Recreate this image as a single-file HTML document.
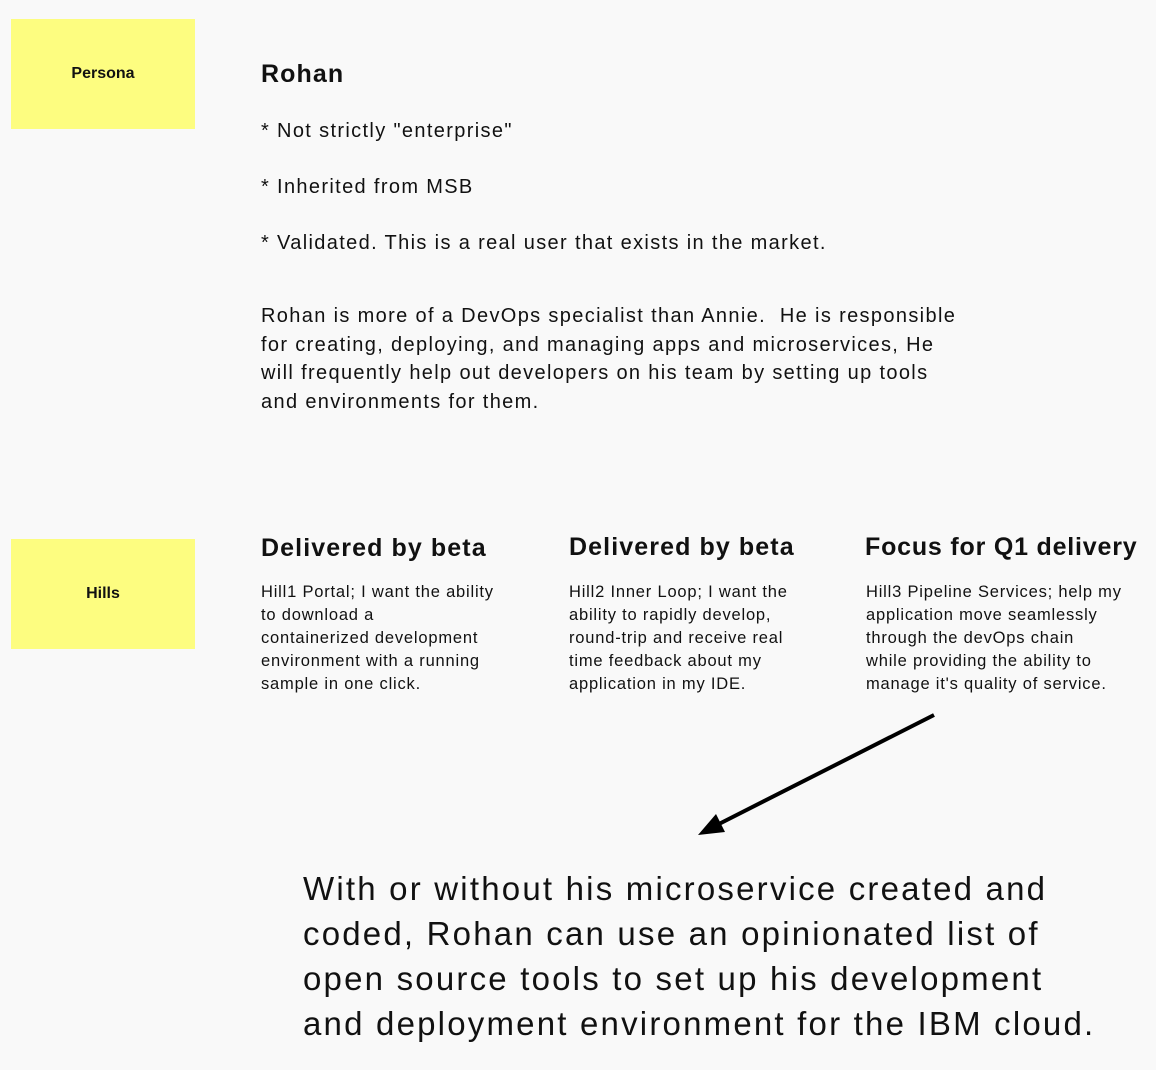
<!DOCTYPE html>
<html><head><meta charset="utf-8"><style>
html,body{margin:0;padding:0;}
body{width:1156px;height:1070px;background:#f9f9f9;position:relative;overflow:hidden;font-family:"Liberation Sans",sans-serif;color:#111;}
.s{position:absolute;background:#fdfd80;width:184px;height:110px;display:flex;align-items:center;justify-content:center;font-weight:bold;font-size:16px;}
.t{position:absolute;white-space:nowrap;}
.b20{font-size:20px;letter-spacing:1.35px;}
.h{font-size:25px;font-weight:bold;letter-spacing:1.1px;}
.sm{font-size:16.5px;line-height:23px;letter-spacing:0.8px;}
.big{font-size:33px;line-height:45px;letter-spacing:2.2px;}
</style></head><body>
<div class="s" style="left:11px;top:19px;">Persona</div>
<div class="s" style="left:11px;top:539px;">Hills</div>

<div class="t h" style="left:261px;top:60px;">Rohan</div>
<div class="t b20" style="left:261px;top:120px;">* Not strictly "enterprise"</div>
<div class="t b20" style="left:261px;top:176px;">* Inherited from MSB</div>
<div class="t b20" style="left:261px;top:232px;">* Validated. This is a real user that exists in the market.</div>
<div class="t b20" style="left:261px;top:302px;line-height:28.5px;">Rohan is more of a DevOps specialist than Annie.&nbsp; He is responsible<br>for creating, deploying, and managing apps and microservices, He<br>will frequently help out developers on his team by setting up tools<br>and environments for them.</div>

<div class="t h" style="left:261px;top:534px;">Delivered by beta</div>
<div class="t h" style="left:569px;top:533px;">Delivered by beta</div>
<div class="t h" style="left:865px;top:533px;letter-spacing:0.8px;">Focus for Q1 delivery</div>

<div class="t sm" style="left:261px;top:581px;">Hill1 Portal; I want the ability<br>to download a<br>containerized development<br>environment with a running<br>sample in one click.</div>
<div class="t sm" style="left:569px;top:581px;">Hill2 Inner Loop; I want the<br>ability to rapidly develop,<br>round-trip and receive real<br>time feedback about my<br>application in my IDE.</div>
<div class="t sm" style="left:866px;top:581px;">Hill3 Pipeline Services; help my<br>application move seamlessly<br>through the devOps chain<br>while providing the ability to<br>manage it's quality of service.</div>

<svg style="position:absolute;left:0;top:0" width="1156" height="1070">
<line x1="934" y1="715" x2="715" y2="826" stroke="#000" stroke-width="4"/>
<polygon points="698,835 716,814 725,832" fill="#000"/>
</svg>

<div class="t big" style="left:303px;top:866px;">With or without his microservice created and<br>coded, Rohan can use an opinionated list of<br>open source tools to set up his development<br>and deployment environment for the IBM cloud.</div>
</body></html>
